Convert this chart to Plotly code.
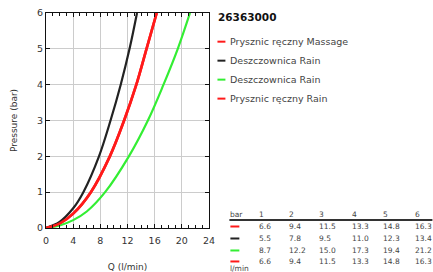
import plotly.graph_objects as go

# ---- data ----
series_names = ["Prysznic ręczny Massage", "Deszczownica Rain", "Deszczownica Rain", "Prysznic ręczny Rain"]
series_colors = ["#ff1a1a", "#222222", "#33ee33", "#ff1a1a"]
# curve points (Q in l/min, pressure in bar)
q_massage = [0, 2, 4, 6.6, 9.4, 11.5, 13.3, 14.8, 16.3]
p_massage = [0, 0.12, 0.40, 1, 2, 3, 4, 5, 6]
q_rain_black = [0, 2, 4, 5.5, 7.8, 9.5, 11.0, 12.3, 13.4]
p_rain_black = [0, 0.17, 0.55, 1, 2, 3, 4, 5, 6]
q_rain_green = [0, 2, 4, 6, 8.7, 12.2, 15.0, 17.3, 19.4, 21.2]
p_rain_green = [0, 0.07, 0.22, 0.46, 1, 2, 3, 4, 5, 6]
q_hand_rain = [0, 2, 4, 6.6, 9.4, 11.5, 13.3, 14.8, 16.3]
p_hand_rain = [0, 0.12, 0.40, 1, 2, 3, 4, 5, 6]
curves_q = [q_massage, q_rain_black, q_rain_green, q_hand_rain]
curves_p = [p_massage, p_rain_black, p_rain_green, p_hand_rain]
# flow table
header_labels = ["1", "2", "3", "4", "5", "6"]
table_flow_labels = [["6.6", "9.4", "11.5", "13.3", "14.8", "16.3"],
                     ["5.5", "7.8", "9.5", "11.0", "12.3", "13.4"],
                     ["8.7", "12.2", "15.0", "17.3", "19.4", "21.2"],
                     ["6.6", "9.4", "11.5", "13.3", "14.8", "16.3"]]
chart_title = "26363000"

W, H = 433, 272
L, R, T, B = 45.7, 209.5, 13.3, 228.5
FONT = "DejaVu Sans"

def px(x):
    return (x - L) / (R - L)

def py(y):
    return 1 - (y - T) / (B - T)

fig = go.Figure()
widths = [2.6, 2.2, 2.2, 2.6]
for name, col, q, p, w in zip(series_names, series_colors, curves_q, curves_p, widths):
    fig.add_trace(go.Scatter(x=q, y=p, mode="lines", name=name,
                             line=dict(color=col, width=w, shape="spline", smoothing=1.0),
                             showlegend=False))

annotations = []
shapes = []
# title
annotations.append(dict(x=px(217), y=py(17), xref="paper", yref="paper", text="<b>%s</b>" % chart_title,
                        showarrow=False, xanchor="left", yanchor="middle",
                        font=dict(family=FONT, size=10.5, color="#111")))
# legend
leg_y = [42, 61, 80, 99]
for name, col, yy in zip(series_names, series_colors, leg_y):
    shapes.append(dict(type="line", xref="paper", yref="paper", x0=px(218), x1=px(226), y0=py(yy), y1=py(yy),
                       line=dict(color=col, width=2)))
    annotations.append(dict(x=px(229), y=py(yy), xref="paper", yref="paper", text=name, showarrow=False,
                            xanchor="left", yanchor="middle", font=dict(family=FONT, size=9.5, color="#444")))
# table
col_x = [258, 288, 318, 351, 382, 414]
TF = 7.5
annotations.append(dict(x=px(229), y=py(215), xref="paper", yref="paper", text="bar", showarrow=False,
                        xanchor="left", yanchor="middle", font=dict(family=FONT, size=TF, color="#444")))
for h, cx in zip(header_labels, col_x):
    annotations.append(dict(x=px(cx), y=py(215), xref="paper", yref="paper", text=h, showarrow=False,
                            xanchor="left", yanchor="middle", font=dict(family=FONT, size=TF, color="#444")))
shapes.append(dict(type="line", xref="paper", yref="paper", x0=px(230), x1=px(434), y0=py(220.5), y1=py(220.5),
                   line=dict(color="#333", width=2)))
row_y = [227, 239, 251, 262]
for col, labels, ry in zip(series_colors, table_flow_labels, row_y):
    shapes.append(dict(type="line", xref="paper", yref="paper", x0=px(231), x1=px(240), y0=py(ry), y1=py(ry),
                       line=dict(color=col, width=2)))
    for lab, cx in zip(labels, col_x):
        annotations.append(dict(x=px(cx), y=py(ry), xref="paper", yref="paper", text=lab, showarrow=False,
                                xanchor="left", yanchor="middle", font=dict(family=FONT, size=TF, color="#444")))
annotations.append(dict(x=px(229), y=py(269.5), xref="paper", yref="paper", text="l/min", showarrow=False,
                        xanchor="left", yanchor="middle", font=dict(family=FONT, size=TF, color="#444")))

fig.update_layout(
    width=W, height=H, margin=dict(l=L, r=W - R, t=T, b=H - B, autoexpand=False),
    paper_bgcolor="white", plot_bgcolor="white",
    font=dict(family=FONT, size=9, color="#333"),
    annotations=annotations, shapes=shapes,
    xaxis=dict(range=[0, 24], dtick=4, tick0=0, showgrid=True, gridcolor="#cccccc", gridwidth=1,
               showline=True, linecolor="#111", linewidth=1, mirror="ticks", ticks="inside", ticklen=4,
               tickcolor="#111", zeroline=False, automargin=False, ticklabelstandoff=4,
               minor=dict(dtick=1, ticks="inside", ticklen=3, tickcolor="#111", showgrid=False),
               title=dict(text="Q (l/min)", font=dict(size=9), standoff=18),
               tickfont=dict(size=9.5)),
    yaxis=dict(range=[0, 6], dtick=1, showgrid=True, gridcolor="#cccccc", gridwidth=1,
               showline=True, linecolor="#111", linewidth=1, mirror="ticks", ticks="inside", ticklen=4,
               tickcolor="#111", zeroline=False, automargin=False,
               title=dict(text="Pressure (bar)", font=dict(size=9), standoff=17),
               tickfont=dict(size=9.5)),
)
fig.write_html("out.html", config={"displayModeBar": False},
               post_script="document.body.style.margin='0';")
